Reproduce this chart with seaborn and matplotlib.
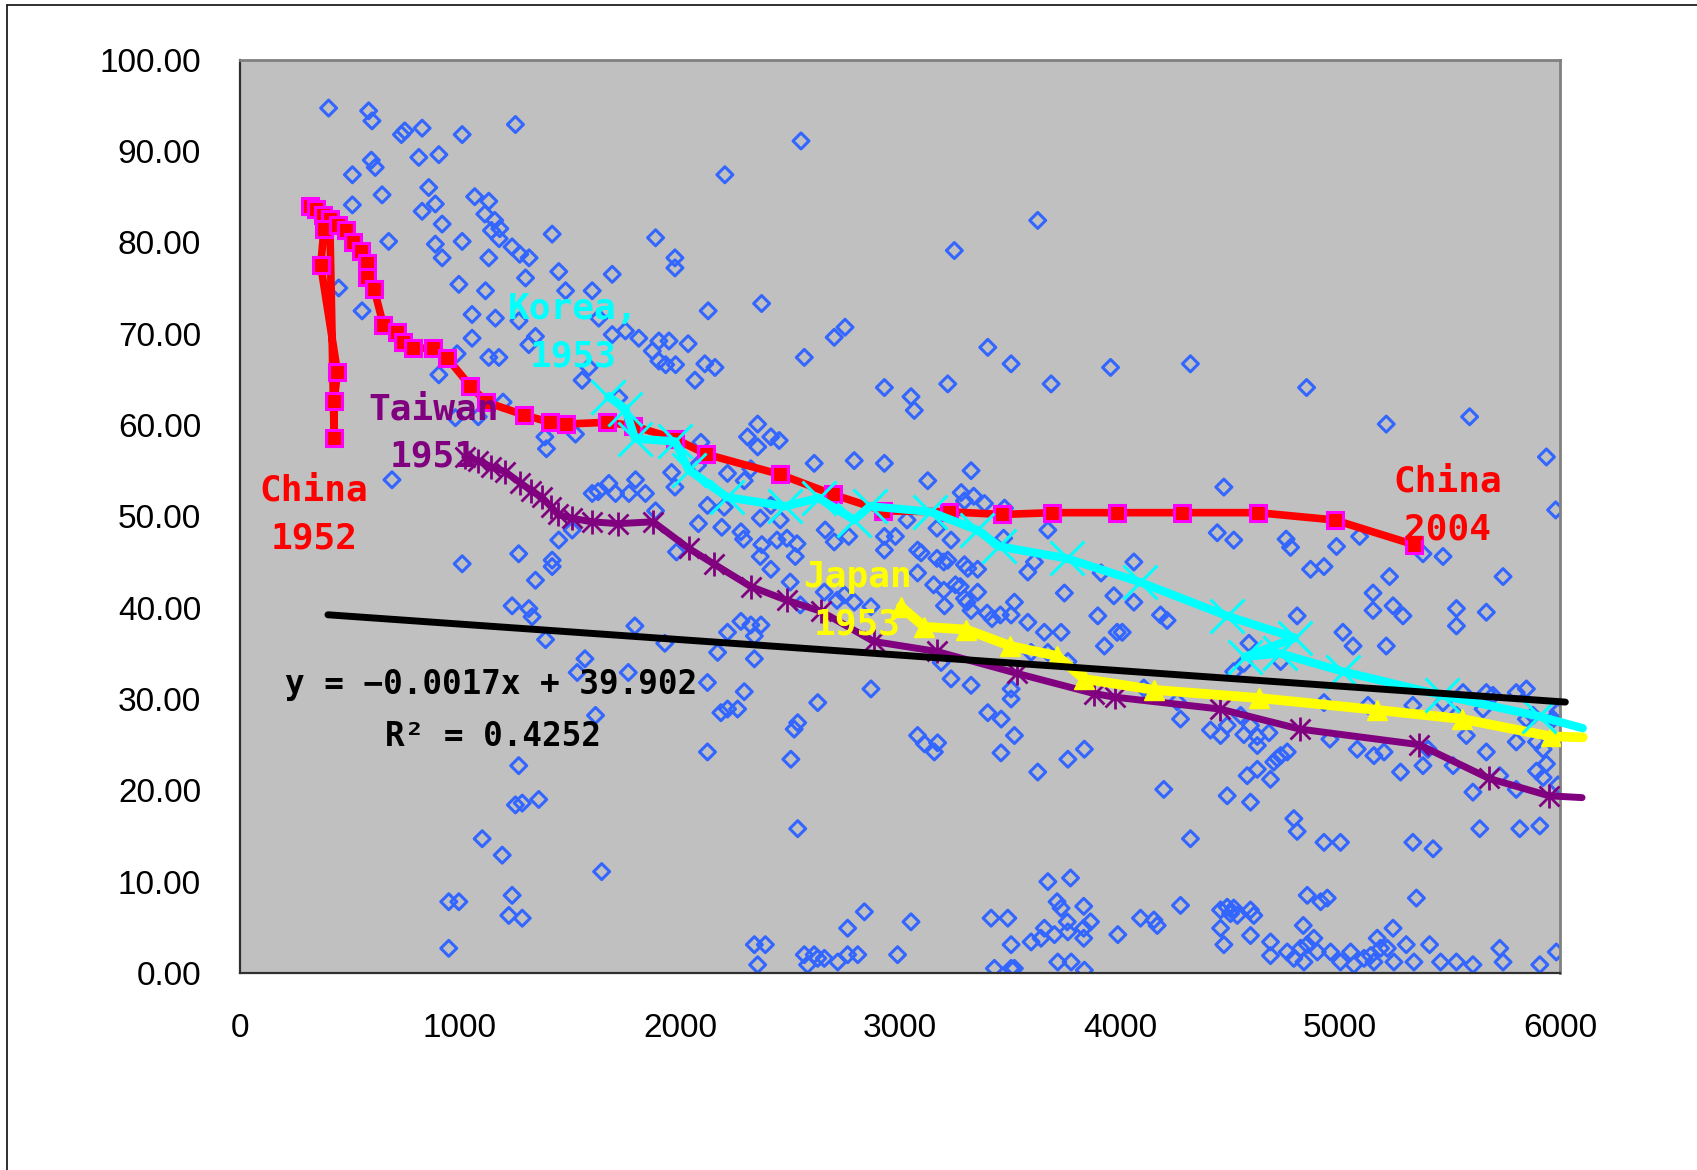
import numpy as np
import pandas as pd
import matplotlib
matplotlib.use('Agg')
import matplotlib.pyplot as plt
from matplotlib.lines import Line2D
import seaborn as sns

# ---- background scatter (per-capita income vs share) ----
upper_left_pts = [
    (403, 94.7), (585, 94.4), (600, 93.3), (734, 91.8), (749, 92.2), (828, 92.5), (1010, 91.8), (1252, 92.9),
    (813, 89.3), (904, 89.6), (597, 89.0), (615, 88.2), (511, 87.4), (646, 85.2), (511, 84.1), (858, 86.0),
    (888, 84.2), (828, 83.4), (919, 82.0), (1067, 85.0), (1131, 84.5), (1113, 83.1), (1158, 82.4), (1143, 81.3),
    (1181, 81.5), (1178, 80.4), (676, 80.1), (888, 79.8), (919, 78.3), (1010, 80.1), (1131, 78.3), (1237, 79.5),
    (1272, 78.7), (1314, 78.3), (1419, 80.9), (1298, 76.1), (1449, 76.8), (1480, 74.7), (1601, 74.7), (1692, 76.5),
    (1889, 80.5), (1977, 78.3), (1977, 77.2), (449, 75.0), (555, 72.5), (995, 75.4), (1116, 74.7), (1055, 72.1),
    (1161, 71.7), (1268, 71.4), (1055, 69.5), (1313, 68.8), (1343, 69.7), (1131, 67.4), (1177, 67.4), (987, 67.8),
    (904, 65.5), (1555, 64.9), (1586, 66.3), (1631, 71.7), (1692, 69.9), (1752, 70.3), (1813, 69.5), (1874, 68.1),
    (1904, 69.2), (1950, 69.2), (1904, 67.0), (1935, 66.6), (1980, 66.6), (1722, 63.0), (979, 60.8), (1083, 60.9),
    (1196, 62.5), (1386, 58.7), (1393, 57.4), (1525, 59.0), (691, 54.0), (1601, 52.5), (1628, 52.7), (1677, 53.6),
    (1707, 52.5), (1768, 52.5), (1798, 54.0), (1843, 52.5), (1889, 50.6), (1962, 54.8), (1977, 53.2),
]
upper_mid_pts = [
    (2550, 91.1), (2204, 87.4), (3626, 82.4), (3247, 79.1), (2128, 72.5), (2371, 73.3), (2037, 68.9), (2113, 66.7),
    (2159, 66.3), (2068, 64.9), (2565, 67.4), (2701, 69.6), (2750, 70.7), (3399, 68.5), (3505, 66.7), (3957, 66.3),
    (3687, 64.5), (2929, 64.1), (3050, 63.1), (3065, 61.6), (3217, 64.5), (2353, 60.1), (2307, 58.7), (2413, 58.7),
    (2451, 58.3), (2353, 57.6), (2095, 58.1), (2610, 55.8), (2792, 56.1), (2929, 55.8), (3126, 53.9), (3323, 55.0),
    (2216, 54.7), (2322, 55.2), (2292, 53.9), (3278, 52.6), (3335, 52.2), (3384, 51.4), (3293, 51.7), (3475, 50.9),
    (2125, 51.2), (2201, 51.0), (2413, 51.2), (2080, 55.6),
]
upper_right_pts = [
    (4320, 66.7), (4848, 64.1), (5210, 60.1), (5589, 60.9), (5938, 56.5), (4472, 53.2), (5980, 50.7),
]
lower_left_pts = [
    (1010, 44.8), (1267, 45.9), (1449, 47.4), (1510, 48.5), (1419, 45.2), (1419, 44.5), (1343, 43.0), (1237, 40.2),
    (1313, 39.9), (1328, 39.0), (1389, 36.5), (1568, 34.4), (1533, 32.9), (1795, 38.0), (1765, 32.9), (1931, 36.1),
    (1984, 46.1), (1616, 28.2), (1267, 22.7), (1252, 18.4), (1283, 18.6), (1358, 19.0), (1101, 14.7), (1192, 12.9),
    (1644, 11.1), (949, 7.8), (995, 7.8), (1237, 8.5), (1222, 6.3), (1283, 6.0), (949, 2.7),
]
lower_mid_pts = [
    (2084, 49.2), (2190, 48.8), (2277, 48.3), (2289, 47.5), (2365, 49.8), (2456, 49.6), (2372, 46.9), (2441, 47.4),
    (2486, 47.6), (2532, 47.0), (2365, 45.6), (2524, 45.6), (2413, 44.2), (2660, 48.5), (2701, 47.2), (2767, 47.8),
    (2929, 46.3), (2929, 47.8), (2979, 47.8), (3032, 49.6), (3080, 46.3), (3096, 46.0), (3168, 45.4), (3199, 45.0),
    (3217, 45.2), (3168, 48.7), (3232, 47.4), (3293, 44.7), (3308, 44.3), (3353, 44.2), (3080, 43.8), (3153, 42.5),
    (3199, 41.9), (3252, 42.5), (3274, 42.3), (3293, 41.0), (3305, 40.6), (3323, 39.7), (3202, 40.2), (3353, 41.7),
    (3396, 39.4), (3418, 38.8), (3456, 39.2), (3505, 39.2), (3520, 40.6), (3471, 47.6), (3581, 38.4), (3656, 37.3),
    (3732, 37.3), (3581, 43.9), (3611, 45.0), (3672, 48.5), (3747, 41.6), (3914, 43.8), (3972, 41.3), (3899, 39.1),
    (3987, 37.3), (3929, 35.8), (3596, 35.1), (3672, 35.1), (3763, 34.1), (2277, 38.5), (2322, 38.1), (2368, 38.1),
    (2338, 36.9), (2216, 37.3), (2171, 35.1), (2338, 34.4), (2501, 42.8), (2547, 40.3), (2656, 41.7), (2714, 40.8),
    (2747, 41.4), (2792, 40.6), (2868, 40.1), (2868, 31.1), (2125, 31.8), (2292, 30.8), (2186, 28.5), (2216, 28.9),
    (2262, 28.9), (2626, 29.6), (2519, 26.7), (2535, 27.4), (2125, 24.2), (2504, 23.4), (2535, 15.8), (3187, 34.0),
    (3232, 32.2), (3323, 31.5), (3505, 31.1), (3505, 30.0), (3399, 28.5), (3460, 27.8), (3520, 26.0), (3080, 26.0),
    (3111, 25.1), (3171, 25.2), (3156, 24.2), (3459, 24.1), (3626, 22.0), (3763, 23.4), (3838, 24.5), (3672, 10.0),
    (3775, 10.4), (3714, 7.8), (3732, 7.1), (3835, 7.3), (3866, 5.6), (3760, 5.6), (3835, 4.9), (3835, 3.8),
    (3414, 6.0), (3490, 6.0), (3656, 4.9), (3702, 4.2), (3641, 3.8), (3596, 3.4), (3763, 4.5), (3505, 3.1),
    (3717, 1.2), (3778, 1.2), (3429, 0.5), (3505, 0.5), (3520, 0.5), (3838, 0.3), (3050, 5.6), (2838, 6.7),
    (2762, 4.9), (2989, 2.0), (2565, 2.0), (2610, 2.0), (2626, 1.6), (2656, 1.6), (2717, 1.2), (2762, 2.0),
    (2808, 2.0), (2580, 0.9), (2338, 3.1), (2388, 3.1), (2353, 0.9), (3990, 4.2),
]
lower_right_pts = [
    (4442, 48.2), (4517, 47.4), (4755, 47.5), (4775, 46.6), (4984, 46.7), (5089, 47.8), (5377, 45.9), (5468, 45.6),
    (4063, 45.0), (4866, 44.2), (4927, 44.5), (5225, 43.4), (5741, 43.4), (5150, 41.6), (5150, 39.7), (5241, 40.2),
    (5286, 39.1), (5529, 39.9), (5529, 38.0), (5665, 39.5), (4063, 40.6), (4184, 39.2), (4214, 38.6), (4010, 37.3),
    (4805, 39.1), (5013, 37.3), (5059, 35.8), (5210, 35.8), (4586, 36.1), (4563, 33.9), (4730, 34.1), (4517, 33.0),
    (4108, 31.2), (4260, 29.7), (4275, 27.8), (4548, 28.2), (4411, 26.6), (4457, 26.0), (4487, 27.1), (4593, 27.1),
    (4563, 26.1), (4624, 25.9), (4624, 24.9), (4677, 26.3), (4699, 23.1), (4730, 23.8), (4760, 24.2), (4715, 23.5),
    (4624, 22.3), (4578, 21.6), (4684, 21.2), (4199, 20.1), (4487, 19.4), (4593, 18.7), (4927, 29.6), (4954, 25.6),
    (5078, 24.5), (5154, 23.8), (5200, 24.2), (5127, 29.3), (5331, 29.3), (5275, 22.0), (5377, 22.7), (5400, 24.5),
    (5514, 22.7), (5574, 26.0), (5665, 24.2), (5604, 19.8), (5801, 25.3), (5801, 20.1), (5726, 21.6), (5893, 25.3),
    (5923, 24.5), (5938, 22.9), (5893, 22.1), (5923, 21.4), (5991, 20.6), (5847, 27.8), (5877, 28.2), (5968, 27.8),
    (5991, 28.6), (5559, 30.7), (5665, 30.7), (5695, 30.4), (5801, 30.7), (5847, 31.1), (5650, 28.9), (5529, 28.2),
    (5468, 29.6), (4790, 16.9), (4805, 15.5), (4320, 14.7), (4927, 14.3), (5002, 14.3), (5331, 14.3), (5423, 13.6),
    (5635, 15.8), (5817, 15.8), (5908, 16.1), (5347, 8.2), (4851, 8.5), (4912, 7.8), (4942, 8.2), (4275, 7.4),
    (4093, 6.0), (4154, 5.8), (4169, 5.2), (4457, 6.9), (4487, 7.2), (4517, 7.1), (4533, 6.3), (4502, 6.5),
    (4593, 6.9), (4608, 6.3), (4457, 4.9), (4593, 4.1), (4472, 3.1), (4833, 5.2), (5241, 4.9), (5169, 3.8),
    (4684, 3.4), (4684, 1.9), (4760, 2.3), (4790, 1.6), (4821, 2.7), (4851, 3.1), (4881, 3.8), (4897, 2.3),
    (4836, 1.2), (4957, 2.3), (5002, 1.2), (5048, 2.3), (5063, 0.9), (5109, 1.6), (5139, 1.9), (5154, 1.2),
    (5184, 2.7), (5215, 2.7), (5245, 1.2), (5301, 3.1), (5336, 1.2), (5407, 3.1), (5457, 1.2), (5529, 1.2),
    (5604, 0.9), (5726, 2.7), (5741, 1.2), (5908, 0.9), (5983, 2.3),
]

# ---- country paths (in time order) ----
china_x = [317, 347, 378, 408, 428, 428, 443, 367, 382, 446, 484, 514, 549, 579, 579, 610, 652, 716, 741, 787,
           878, 943, 1046, 1120, 1290, 1408, 1484, 1669, 1787, 1977, 2119, 2453, 2695, 2923, 3221, 3464, 3691,
           3987, 4282, 4627, 4975, 5336]
china_y = [84.0, 83.7, 83.0, 82.6, 58.6, 62.6, 65.8, 77.5, 81.5, 81.9, 81.3, 80.0, 79.1, 77.7, 76.2, 74.9, 70.9,
           70.2, 69.1, 68.4, 68.4, 67.3, 64.3, 62.5, 61.1, 60.3, 60.1, 60.3, 59.9, 58.5, 56.8, 54.6, 52.4, 50.6,
           50.5, 50.2, 50.4, 50.4, 50.4, 50.4, 49.6, 46.9]

taiwan_x = [1022, 1083, 1143, 1204, 1272, 1325, 1371, 1416, 1446, 1507, 1598, 1719, 1878, 2039, 2153, 2322, 2486,
            2641, 2880, 3168, 3532, 3881, 3975, 4454, 4818, 5359, 5677, 5950, 6100]
taiwan_y = [56.5, 56.1, 55.4, 54.9, 53.7, 52.8, 52.1, 51.0, 50.2, 49.8, 49.4, 49.2, 49.4, 46.5, 44.8, 42.3, 40.8,
            39.6, 36.3, 35.2, 32.8, 30.6, 30.2, 28.9, 26.7, 25.0, 21.3, 19.4, 19.2]

korea_x = [1675, 1751, 1796, 1978, 2039, 2214, 2478, 2630, 2792, 2863, 3137, 3351, 3452, 3757, 4090, 4486, 4795,
           4567, 4725, 5015, 5465, 5905, 6103]
korea_y = [63.1, 61.8, 58.5, 58.2, 55.1, 52.1, 51.1, 52.0, 49.6, 51.1, 50.5, 48.5, 46.7, 45.4, 42.8, 39.1, 36.7,
           34.6, 35.0, 33.0, 30.4, 28.1, 26.8]

japan_x = [3004, 3111, 3302, 3502, 3715, 3836, 4153, 4633, 5167, 5556, 5958, 6103]
japan_y = [40.1, 37.9, 37.6, 35.8, 34.7, 32.2, 31.0, 30.1, 28.8, 27.8, 25.9, 25.8]

# linear trend drawn by the spreadsheet (end points)
trend_x = [400, 6024]
trend_y = [39.22, 29.66]

x_ticks = [0, 1000, 2000, 3000, 4000, 5000, 6000]
y_ticks = [0, 10, 20, 30, 40, 50, 60, 70, 80, 90, 100]

sns.set_style("white")
plt.rcParams['font.family'] = ['Liberation Sans', 'DejaVu Sans']

fig = plt.figure(figsize=(16.97, 11.70), dpi=100)
ax = fig.add_axes([0.1414, 0.1684, 0.7779, 0.7806])
ax.set_facecolor('#C0C0C0')

pts = upper_left_pts + upper_mid_pts + upper_right_pts + lower_left_pts + lower_mid_pts + lower_right_pts
df_sc = pd.DataFrame(pts, columns=["gdp", "share"])
sns.scatterplot(data=df_sc, x="gdp", y="share", ax=ax, marker='D', s=66, facecolor='none',
                edgecolor='#3366FF', linewidth=2.2, zorder=2)


def draw_path(xs, ys, color, lw, z, **mk):
    df = pd.DataFrame({"x": xs, "y": ys})
    sns.lineplot(data=df, x="x", y="y", sort=False, estimator=None, color=color, linewidth=lw,
                 ax=ax, zorder=z, clip_on=False)
    inside = df[df["x"] <= 6000]
    for m in mk.pop("markers"):
        ax.plot(inside["x"], inside["y"], linestyle='none', zorder=z + 0.1, **m)


draw_path(china_x, china_y, '#FF0000', 5.5, 3,
          markers=[dict(marker='s', ms=11, mfc='#FF0000', mec='#FF00FF', mew=2.2)])
draw_path(taiwan_x, taiwan_y, '#800080', 5.0, 4,
          markers=[dict(marker='x', ms=14, mec='#800080', mew=2.0),
                   dict(marker='|', ms=17, mec='#800080', mew=2.0)])
draw_path(japan_x, japan_y, '#FFFF00', 7.0, 5,
          markers=[dict(marker='^', ms=15, mfc='#FFFF00', mec='#FFFF00', mew=1)])
draw_path(korea_x, korea_y, '#00FFFF', 6.0, 6,
          markers=[dict(marker='x', ms=24, mec='#00FFFF', mew=2.2)])

sns.lineplot(x=trend_x, y=trend_y, color='black', linewidth=5.0, ax=ax, zorder=7, clip_on=False)

ax.set_xlim(0, 6000)
ax.set_ylim(0, 100)
ax.set_xticks(x_ticks)
ax.set_yticks(y_ticks)
ax.set_xticklabels([str(v) for v in x_ticks])
ax.set_yticklabels([f"{v:.2f}" for v in y_ticks])
ax.set_xlabel("")
ax.set_ylabel("")
ax.tick_params(axis='both', direction='in', length=7, width=1.2, color='#303030',
               labelsize=24, labelcolor='black')
ax.tick_params(axis='y', pad=28)
ax.tick_params(axis='x', pad=29)

for side in ['left', 'bottom']:
    ax.spines[side].set_color('#303030')
    ax.spines[side].set_linewidth(1.6)
for side in ['top', 'right']:
    ax.spines[side].set_color('#808080')
    ax.spines[side].set_linewidth(2.0)
    ax.spines[side].set_visible(True)

lab = dict(family=['DejaVu Sans Mono'], fontsize=26, fontweight='bold', ha='center', va='center',
           linespacing=1.5, zorder=9)
ax.text(336, 50.2, "China\n1952", color='#FF0000', **lab)
ax.text(880, 59.1, "Taiwan\n1951", color='#800080', **lab)
ax.text(1515, 70.1, "Korea,\n1953", color='#00FFFF', **lab)
ax.text(2806, 40.8, "Japan\n1953", color='#FFFF00', **lab)
ax.text(5489, 51.2, "China\n2004", color='#FF0000', **lab)

eq = dict(family=['DejaVu Sans Mono'], fontsize=23.5, fontweight='bold', color='black',
          ha='center', va='center', zorder=9)
ax.text(1141, 31.6, "y = \u22120.0017x + 39.902", **eq)
ax.text(1151, 25.9, "R\u00b2 = 0.4252", **eq)

# outer chart frame (cropped on the right and bottom)
fig.add_artist(Line2D([7 / 1697, 1.0], [1 - 5 / 1170, 1 - 5 / 1170], color='#202020', lw=1.3))
fig.add_artist(Line2D([7 / 1697, 7 / 1697], [0.0, 1 - 5 / 1170], color='#202020', lw=1.3))

fig.savefig("out.png", dpi=100)
plt.close(fig)
